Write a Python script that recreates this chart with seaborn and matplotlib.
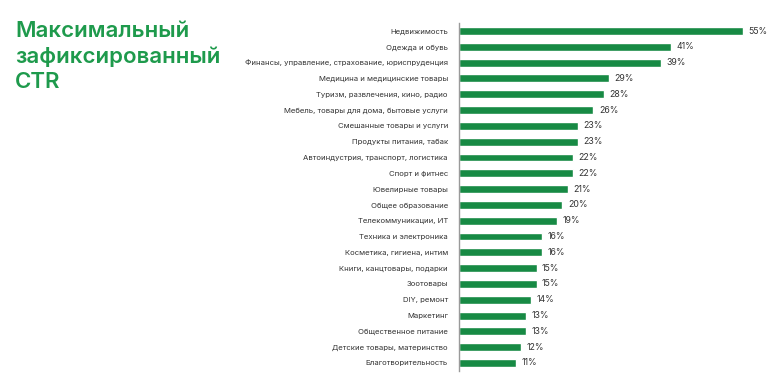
import matplotlib
matplotlib.use("Agg")
import matplotlib.pyplot as plt
import seaborn as sns
import pandas as pd

categories = [
    "Недвижимость", "Одежда и обувь",
    "Финансы, управление, страхование, юриспруденция",
    "Медицина и медицинские товары", "Туризм, развлечения, кино, радио",
    "Мебель, товары для дома, бытовые услуги", "Смешанные товары и услуги",
    "Продукты питания, табак", "Автоиндустрия, транспорт, логистика",
    "Спорт и фитнес", "Ювелирные товары", "Общее образование",
    "Телекоммуникации, ИТ", "Техника и электроника",
    "Косметика, гигиена, интим", "Книги, канцтовары, подарки", "Зоотовары",
    "DIY, ремонт", "Маркетинг", "Общественное питание",
    "Детские товары, материнство", "Благотворительность",
]
values = [55, 41, 39, 29, 28, 26, 23, 23, 22, 22, 21, 20, 19, 16, 16, 15, 15, 14, 13, 13, 12, 11]

df = pd.DataFrame({"cat": categories, "val": values})

sns.set_theme(style="white")
plt.rcParams['font.family'] = ['Inter', 'DejaVu Sans']

W, H = 783, 377
fig = plt.figure(figsize=(W / 100, H / 100), dpi=100)
ax = fig.add_axes([459 / W, 1 - 370.9 / H, 310 / W, 347.8 / H])

sns.barplot(data=df, y="cat", x="val", orient="h", color="#178a44",
            saturation=1, width=0.5, ax=ax)
ax.set_xlim(0, 60)
ax.set_ylim(21.5, -0.5)
ax.set_xlabel("")
ax.set_ylabel("")
ax.set_xticks([])
ax.tick_params(axis="y", length=0, pad=8, labelsize=5.55, labelcolor="#333333")
for s in ["top", "right", "bottom"]:
    ax.spines[s].set_visible(False)
ax.spines["left"].set_color("#9a9a9a")
ax.spines["left"].set_linewidth(1.0)

for c in ax.containers:
    ax.bar_label(c, labels=[f"{v}%" for v in values], padding=4,
                 fontsize=6.3, color="#333333")

fig.text(15 / W, 1 - 21 / H, "Максимальный\nзафиксированный\nCTR",
         ha="left", va="top", fontsize=16, fontweight="semibold",
         color="#1e9a4c", linespacing=1.32)

fig.savefig("out.png", dpi=100, facecolor="white")
